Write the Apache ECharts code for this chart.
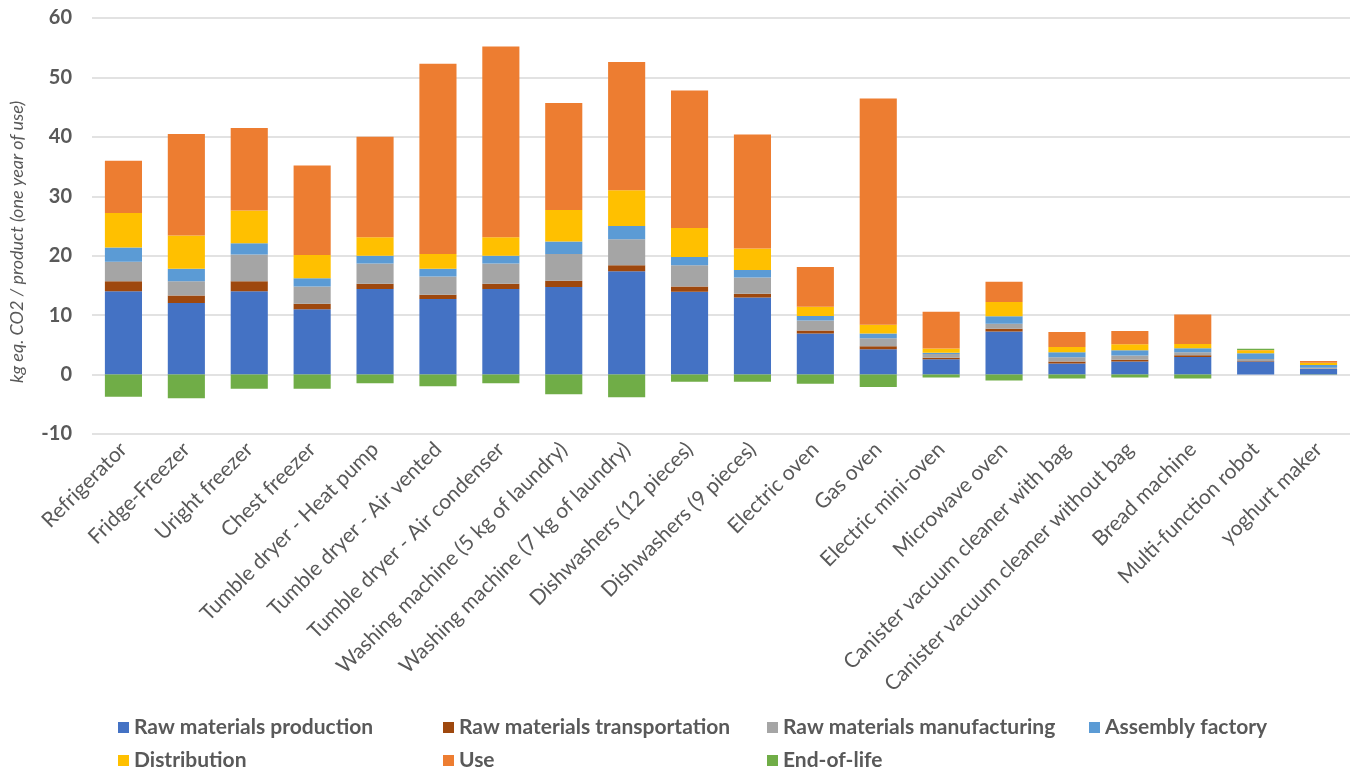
<!DOCTYPE html>
<html>
<head>
<meta charset="utf-8">
<script src="https://cdn.jsdelivr.net/npm/echarts@6/dist/echarts.min.js"></script>
<style>
  html, body { margin: 0; padding: 0; background: #ffffff; }
  #chart { width: 1356px; height: 771px; }
</style>
</head>
<body>
<div id="chart"></div>
<script>
// Appliance categories (x axis)
const categories = [
  'Refrigerator', 'Fridge-Freezer', 'Uright freezer', 'Chest freezer',
  'Tumble dryer - Heat pump', 'Tumble dryer - Air vented', 'Tumble dryer - Air condenser',
  'Washing machine (5 kg of laundry)', 'Washing machine (7 kg of laundry)',
  'Dishwashers (12 pieces)', 'Dishwashers (9 pieces)', 'Electric oven', 'Gas oven',
  'Electric mini-oven', 'Microwave oven', 'Canister vacuum cleaner with bag',
  'Canister vacuum cleaner without bag', 'Bread machine', 'Multi-function robot', 'yoghurt maker'
];

// Life-cycle stages, kg eq. CO2 per product and year of use
const rawProduction    = [14.0, 12.05, 14.0, 11.0, 14.4, 12.7, 14.4, 14.75, 17.4, 13.95, 12.95, 6.9, 4.25, 2.58, 7.23, 1.85, 2.2, 2.97, 2.2, 0.96];
const rawTransport     = [1.7, 1.25, 1.7, 0.9, 0.9, 0.75, 0.9, 1.05, 1.0, 0.85, 0.65, 0.5, 0.5, 0.27, 0.5, 0.35, 0.3, 0.28, 0.1, 0.05];
const rawManufacturing = [3.3, 2.4, 4.5, 2.9, 3.4, 3.05, 3.4, 4.5, 4.35, 3.6, 2.75, 1.7, 1.35, 0.62, 0.84, 0.7, 0.7, 0.5, 0.34, 0.12];
const assembly         = [2.4, 2.1, 1.9, 1.4, 1.3, 1.3, 1.3, 2.1, 2.25, 1.4, 1.25, 0.75, 0.8, 0.2, 1.23, 0.85, 0.9, 0.68, 0.96, 0.5];
const distribution     = [5.8, 5.6, 5.5, 3.9, 3.1, 2.5, 3.1, 5.3, 6.0, 4.85, 3.6, 1.55, 1.5, 0.7, 2.4, 0.9, 1.0, 0.72, 0.5, 0.34];
const useStage         = [8.8, 17.1, 13.9, 15.1, 16.9, 32.0, 32.1, 18.0, 21.6, 23.15, 19.2, 6.7, 38.05, 6.2, 3.4, 2.52, 2.24, 4.95, 0.05, 0.33];
const endOfLife        = [-3.75, -4.0, -2.4, -2.4, -1.45, -1.95, -1.45, -3.3, -3.8, -1.2, -1.2, -1.55, -2.1, -0.5, -1.0, -0.67, -0.5, -0.67, 0.2, -0.05];

// Y axis ticks
const yMin = -10, yMax = 60, yStep = 10;

const stages = [
  { name: 'Raw materials production',    data: rawProduction,    color: '#4472C4' },
  { name: 'Raw materials transportation', data: rawTransport,    color: '#9E480E' },
  { name: 'Raw materials manufacturing', data: rawManufacturing, color: '#A5A5A5' },
  { name: 'Assembly factory',            data: assembly,         color: '#5B9BD5' },
  { name: 'Distribution',                data: distribution,     color: '#FFC000' },
  { name: 'Use',                         data: useStage,         color: '#ED7D31' },
  { name: 'End-of-life',                 data: endOfLife,        color: '#70AD47' }
];

const FONT = 'Lato, "Open Sans", sans-serif';
const GREY = '#595959';

// Legend laid out as a 4-column grid: one legend component per entry
const legendCols = [118, 443, 767, 1089];
const legendRows = [717, 750];
const legends = stages.map((s, i) => ({
  data: [s.name],
  left: legendCols[i % 4],
  top: legendRows[Math.floor(i / 4)],
  padding: 0,
  icon: 'rect',
  itemWidth: 11,
  itemHeight: 11,
  itemGap: 0,
  textStyle: { fontFamily: FONT, fontSize: 21, fontWeight: 'bold', color: GREY, lineHeight: 20 }
}));

const chart = echarts.init(document.getElementById('chart'), null, { renderer: 'canvas' });
chart.setOption({
  animation: false,
  backgroundColor: '#ffffff',
  grid: { left: 92, right: 6, top: 18, bottom: 337, containLabel: false },
  legend: legends,
  xAxis: {
    type: 'category',
    data: categories,
    axisLine: { show: false },
    axisTick: { show: false },
    axisLabel: {
      interval: 0,
      rotate: 45,
      margin: 12,
      fontFamily: FONT,
      fontSize: 21,
      color: GREY
    }
  },
  yAxis: {
    type: 'value',
    min: yMin,
    max: yMax,
    interval: yStep,
    name: 'kg eq. CO2 / product (one year of use)',
    nameLocation: 'middle',
    nameRotate: 90,
    nameGap: 66,
    nameTextStyle: { fontFamily: FONT, fontSize: 18, fontStyle: 'italic', color: GREY, padding: [0, 32, 0, 0] },
    axisLine: { show: false },
    axisTick: { show: false },
    axisLabel: { fontFamily: FONT, fontSize: 20, fontWeight: 'bold', color: GREY, margin: 20 },
    splitLine: { lineStyle: { color: '#d9d9d9', width: 1.5 } }
  },
  series: stages.map(s => ({
    name: s.name,
    type: 'bar',
    stack: 'lifecycle',
    barWidth: '59%',
    data: s.data,
    itemStyle: { color: s.color }
  }))
});
</script>
</body>
</html>
